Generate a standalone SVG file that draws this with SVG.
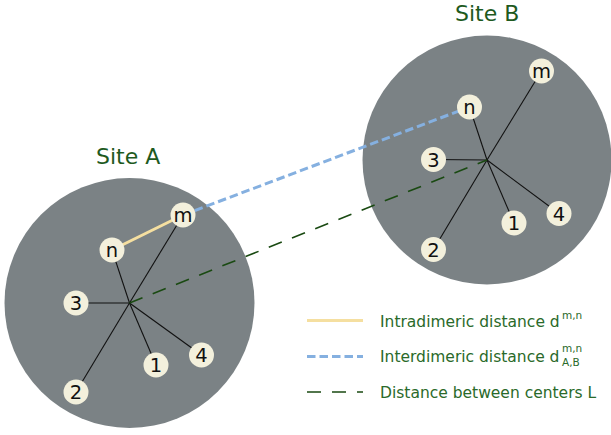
<svg xmlns="http://www.w3.org/2000/svg" width="611" height="435" viewBox="0 0 611 435">
<style>
.site{fill:#7b8285}
.spoke{stroke:#111;stroke-width:1.1}
.node circle{fill:#f3f0dc}
.node text{font-family:"DejaVu Sans",sans-serif;font-size:19.5px;fill:#111;text-anchor:middle}
.title{font-family:"DejaVu Sans",sans-serif;font-size:22px;fill:#1e5a1e}
.leg{font-family:"DejaVu Sans",sans-serif;font-size:15.5px;fill:#2a6a2a}
.sm{font-size:10.5px}
.intra{stroke:#f5dfa0;stroke-width:3;fill:none}
.inter{stroke:#85b0e0;stroke-width:3;stroke-dasharray:8.5 4;fill:none}
.center{stroke:#1a4a12;stroke-width:1.6;stroke-dasharray:14 11;fill:none}
</style>
<g id="siteA">
<circle class="site" cx="129.5" cy="303" r="125"/>
<g class="spoke">
<line x1="129.5" y1="303" x2="183" y2="215"/>
<line x1="129.5" y1="303" x2="112" y2="250"/>
<line x1="129.5" y1="303" x2="76" y2="303"/>
<line x1="129.5" y1="303" x2="156" y2="365"/>
<line x1="129.5" y1="303" x2="201.5" y2="355"/>
<line x1="129.5" y1="303" x2="76" y2="392"/>
</g>
</g>
<g id="siteB">
<circle class="site" cx="487" cy="160" r="124.5"/>
<g class="spoke">
<line x1="487" y1="160" x2="541.5" y2="71"/>
<line x1="487" y1="160" x2="469.5" y2="107"/>
<line x1="487" y1="160" x2="433.5" y2="159.5"/>
<line x1="487" y1="160" x2="514" y2="223"/>
<line x1="487" y1="160" x2="559" y2="213.5"/>
<line x1="487" y1="160" x2="433.5" y2="249.5"/>
</g>
</g>
<g id="connectors">
<line class="intra" x1="112" y1="250" x2="183" y2="215"/>
<line class="inter" x1="183" y1="215" x2="469.5" y2="107"/>
<line class="center" x1="129.5" y1="303" x2="487" y2="160"/>
</g>
<g id="A-m" class="node"><circle cx="183" cy="215" r="12.5"/><text x="183" y="221.5">m</text></g>
<g id="A-n" class="node"><circle cx="112" cy="250" r="12.5"/><text x="112" y="256.5">n</text></g>
<g id="A-3" class="node"><circle cx="76" cy="303" r="12.5"/><text x="76" y="310">3</text></g>
<g id="A-1" class="node"><circle cx="156" cy="365" r="12.5"/><text x="156" y="372">1</text></g>
<g id="A-4" class="node"><circle cx="201.5" cy="355" r="12.5"/><text x="201.5" y="362">4</text></g>
<g id="A-2" class="node"><circle cx="76" cy="392" r="12.5"/><text x="76" y="399">2</text></g>
<g id="B-m" class="node"><circle cx="541.5" cy="71" r="12.5"/><text x="541.5" y="77.5">m</text></g>
<g id="B-n" class="node"><circle cx="469.5" cy="107" r="12.5"/><text x="469.5" y="113.5">n</text></g>
<g id="B-3" class="node"><circle cx="433.5" cy="159.5" r="12.5"/><text x="433.5" y="166.5">3</text></g>
<g id="B-1" class="node"><circle cx="514" cy="223" r="12.5"/><text x="514" y="230">1</text></g>
<g id="B-4" class="node"><circle cx="559" cy="213.5" r="12.5"/><text x="559" y="220.5">4</text></g>
<g id="B-2" class="node"><circle cx="433.5" cy="249.5" r="12.5"/><text x="433.5" y="256.5">2</text></g>
<text class="title" x="96" y="163.5">Site A</text>
<text class="title" x="455" y="21">Site B</text>
<g id="legend">
<line class="intra" x1="307" y1="320.5" x2="363" y2="320.5"/>
<line class="inter" x1="307" y1="356.5" x2="363" y2="356.5"/>
<line class="center" stroke-width="2" x1="307" y1="392" x2="363" y2="392"/>
<text class="leg" x="380" y="326.5">Intradimeric distance d<tspan class="sm" x="562" y="318.5">m,n</tspan></text>
<text class="leg" x="380" y="362">Interdimeric distance d<tspan class="sm" x="562" y="352">m,n</tspan><tspan class="sm" x="562" y="365.5">A,B</tspan></text>
<text class="leg" x="380" y="398">Distance between centers L</text>
</g>
</svg>
